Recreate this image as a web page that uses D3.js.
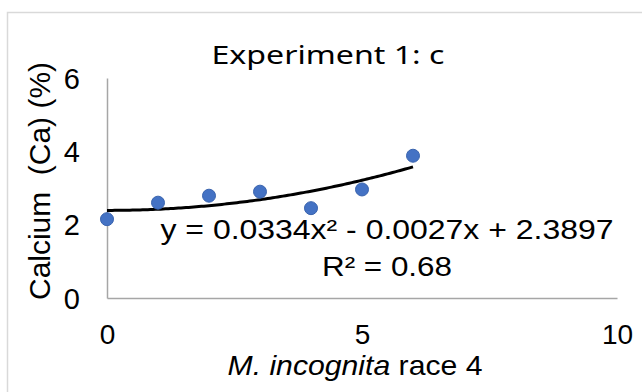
<!DOCTYPE html>
<html>
<head>
<meta charset="utf-8">
<script src="https://cdn.jsdelivr.net/npm/d3@7"></script>
<style>
  html, body { margin: 0; padding: 0; background: #fff; }
  svg { display: block; }
  text { font-family: "Liberation Sans", Arial, sans-serif; fill: #000; }
</style>
</head>
<body>
<svg id="chart" width="642" height="392"></svg>
<script>
// Nematode inoculum (x) vs. leaf calcium content (y)
const xValues = [0, 1, 2, 3, 4, 5, 6];
const caValues = [2.15, 2.60, 2.79, 2.90, 2.45, 2.96, 3.88];
const xTicks = [0, 5, 10];
const yTicks = [0, 2, 4, 6];
// Polynomial (order 2) trendline coefficients: a*x^2 + b*x + c
const trendCoef = [0.0334, -0.0027, 2.3897];
const rSquared = 0.68;

const svg = d3.select("#chart");

// outer chart frame
svg.append("rect")
  .attr("x", 7.5).attr("y", 12.5)
  .attr("width", 700).attr("height", 500)
  .attr("fill", "#fff")
  .attr("stroke", "#d9d9d9").attr("stroke-width", 1.5);

const x = d3.scaleLinear().domain([0, 10]).range([107, 617]);
const y = d3.scaleLinear().domain([0, 6]).range([298, 78]);

// title
svg.append("text")
  .attr("x", 328).attr("y", 64)
  .attr("text-anchor", "middle")
  .style("font-family", "'Segoe UI', 'Noto Sans', 'Open Sans', sans-serif")
  .style("font-size", "26px")
  .attr("textLength", 233).attr("lengthAdjust", "spacingAndGlyphs")
  .text("Experiment 1: c");

// y axis
const yAxis = svg.append("g")
  .attr("transform", `translate(${x(0)},0)`)
  .call(d3.axisLeft(y).tickValues(yTicks).tickSize(0).tickPadding(27).tickFormat(d3.format("d")));
yAxis.select(".domain").attr("stroke", "#a6a6a6").attr("stroke-width", 1.5);
yAxis.selectAll("text").style("font-size", "29px").attr("dy", "0.35em")
  .style("font-family", "'Liberation Sans', Arial, sans-serif");

// x axis
const xAxis = svg.append("g")
  .attr("transform", `translate(0,${y(0)})`)
  .call(d3.axisBottom(x).tickValues(xTicks).tickSize(0).tickPadding(26).tickFormat(d3.format("d")));
xAxis.select(".domain").attr("stroke", "#a6a6a6").attr("stroke-width", 1.5);
xAxis.selectAll("text").style("font-size", "28px").attr("dy", "0.71em")
  .style("font-family", "'Liberation Sans', Arial, sans-serif");

// axis titles
const xTitle = svg.append("text")
  .attr("x", 355).attr("y", 375)
  .attr("text-anchor", "middle")
  .style("font-size", "28px")
  .attr("textLength", 255).attr("lengthAdjust", "spacingAndGlyphs");
xTitle.append("tspan").style("font-style", "italic").text("M. incognita");
xTitle.append("tspan").text(" race 4");

svg.append("text")
  .attr("transform", "translate(50,181) rotate(-90)")
  .attr("text-anchor", "middle")
  .style("font-size", "29px")
  .attr("textLength", 238).attr("lengthAdjust", "spacingAndGlyphs")
  .text("Calcium\u00a0\u00a0(Ca) (%)");

// trendline from the fitted coefficients
const poly = v => trendCoef[0] * v * v + trendCoef[1] * v + trendCoef[2];
const xs = d3.range(0, 6.001, 0.05);
svg.append("path")
  .datum(xs)
  .attr("fill", "none")
  .attr("stroke", "#000")
  .attr("stroke-width", 3)
  .attr("d", d3.line().x(d => x(d)).y(d => y(poly(d))));

// data points
svg.selectAll("circle.pt")
  .data(xValues.map((v, i) => [v, caValues[i]]))
  .join("circle")
  .attr("class", "pt")
  .attr("cx", d => x(d[0]))
  .attr("cy", d => y(d[1]))
  .attr("r", 6.5)
  .attr("fill", "#4472c4")
  .attr("stroke", "#3a64ae")
  .attr("stroke-width", 1);

// trendline equation and R²
const fmt = d3.format(".4f");
const eqText = `y = ${fmt(trendCoef[0])}x² - ${fmt(Math.abs(trendCoef[1]))}x + ${fmt(trendCoef[2])}`;
svg.append("text")
  .attr("x", 387).attr("y", 239)
  .attr("text-anchor", "middle")
  .style("font-size", "28px")
  .attr("textLength", 453).attr("lengthAdjust", "spacingAndGlyphs")
  .text(eqText);
svg.append("text")
  .attr("x", 387).attr("y", 276)
  .attr("text-anchor", "middle")
  .style("font-size", "28px")
  .attr("textLength", 130).attr("lengthAdjust", "spacingAndGlyphs")
  .text(`R² = ${d3.format(".2f")(rSquared)}`);
</script>
</body>
</html>
